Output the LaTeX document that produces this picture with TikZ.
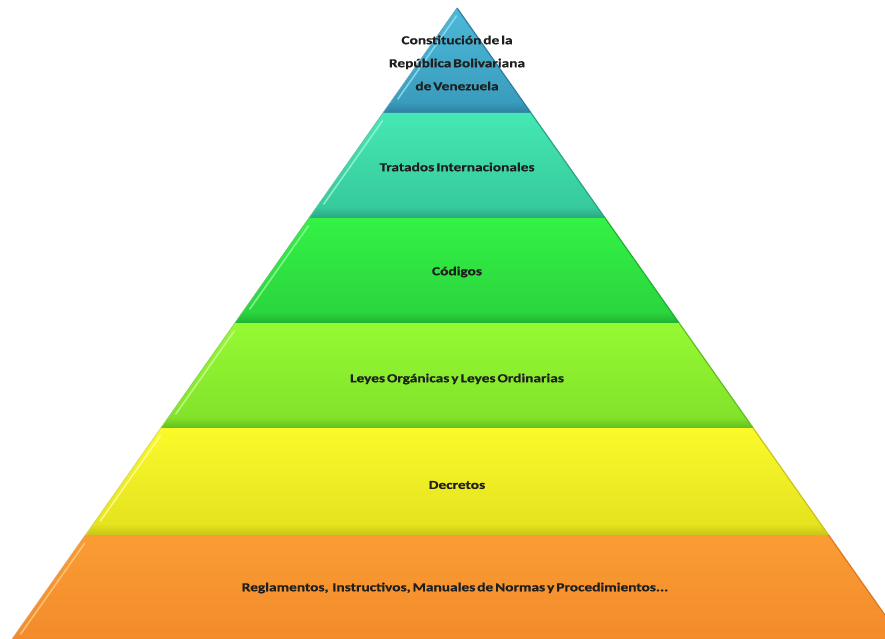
\documentclass[tikz,border=0pt]{standalone}
\usepackage{fontspec}
\setmainfont{Carlito}
\newfontfamily\lblfont[FakeStretch=1.26, WordSpace=0.55, FakeBold=0.6]{Carlito}
\definecolor{c1t}{HTML}{4DB9D9}\definecolor{c1b}{HTML}{3899BA}\definecolor{c1s}{HTML}{2C7FA0}\definecolor{c1h}{HTML}{9BE3F5}
\definecolor{c2t}{HTML}{45E8B4}\definecolor{c2b}{HTML}{35C699}\definecolor{c2s}{HTML}{2AA583}\definecolor{c2h}{HTML}{A5F7DA}
\definecolor{c3t}{HTML}{33F245}\definecolor{c3b}{HTML}{2AD23D}\definecolor{c3s}{HTML}{20B032}\definecolor{c3h}{HTML}{A0FBA8}
\definecolor{c4t}{HTML}{95FA33}\definecolor{c4b}{HTML}{80E029}\definecolor{c4s}{HTML}{62BD1E}\definecolor{c4h}{HTML}{D4FD9E}
\definecolor{c5t}{HTML}{FAFA2A}\definecolor{c5b}{HTML}{E3E01E}\definecolor{c5s}{HTML}{C9C417}\definecolor{c5h}{HTML}{FFFFA8}
\definecolor{c6t}{HTML}{FA9C33}\definecolor{c6b}{HTML}{F28A2A}\definecolor{c6s}{HTML}{DC7820}\definecolor{c6h}{HTML}{FFD08A}
\newcommand\pyrlevel[5]{%
  \pgfmathsetmacro\xlt{457-0.705*(#1-8)}%
  \pgfmathsetmacro\xrt{457+0.705*(#1-8)}%
  \pgfmathsetmacro\xlb{457-0.705*(#2-8)}%
  \pgfmathsetmacro\xrb{457+0.705*(#2-8)}%
  \pgfmathsetmacro\ys{#2-10}%
  \pgfmathsetmacro\xls{457-0.705*(\ys-8)}%
  \pgfmathsetmacro\xrs{457+0.705*(\ys-8)}%
  \pgfmathsetmacro\yha{#1+8}%
  \pgfmathsetmacro\yhb{#2-14}%
  \pgfmathsetmacro\xha{457-0.705*(\yha-8)+5}%
  \pgfmathsetmacro\xhb{457-0.705*(\yhb-8)+5}%
  \shade[top color=#3t, bottom color=#3b] (\xlt,#1) -- (\xrt,#1) -- (\xrb,#2) -- (\xlb,#2) -- cycle;
  \shade[top color=#3b, bottom color=#3s] (\xls,\ys) -- (\xrs,\ys) -- (\xrb,#2) -- (\xlb,#2) -- cycle;
  \draw[#3h, line width=1.6pt, line cap=round, opacity=0.75] (\xha,\yha) -- (\xhb,\yhb);
  \draw[#3s, line width=1.2pt] (\xrt,#1) -- (\xrb,#2);
  \draw[#3s!70!white, line width=0.8pt] (\xlt,#1) -- (\xlb,#2);
  \coordinate (#4) at (457,{(#1+#2)/2+#5});
}
\begin{document}
\begin{tikzpicture}[x=1pt,y=-1pt,
  lbl/.style={font=\lblfont\bfseries\fontsize{12.2}{23}\selectfont, text=black!88, align=center, inner sep=0pt}]
\useasboundingbox (0,0) rectangle (885,639);
\clip (0,0) rectangle (885,639);
\fill[white] (0,0) rectangle (885,639);
\pyrlevel{8}{113}{c1}{p1}{0}
\pyrlevel{113}{218}{c2}{p2}{0}
\pyrlevel{218}{323}{c3}{p3}{0}
\pyrlevel{323}{428}{c4}{p4}{0}
\pyrlevel{428}{535}{c5}{p5}{0}
\pyrlevel{535}{648}{c6}{p6}{0}
\node[lbl] (t1) at (457,63) {Constitución de la\\República Bolivariana\\de Venezuela};
\node[lbl] (t2) at (457,167) {Tratados Internacionales};
\node[lbl] (t3) at (457,272) {Códigos};
\node[lbl] (t4) at (457,379) {Leyes Orgánicas y Leyes Ordinarias};
\node[lbl] (t5) at (457,485) {Decretos};
\node[lbl] (t6) at (455,588) {Reglamentos,\ \ Instructivos, Manuales de Normas y Procedimientos...};
\end{tikzpicture}
\end{document}
